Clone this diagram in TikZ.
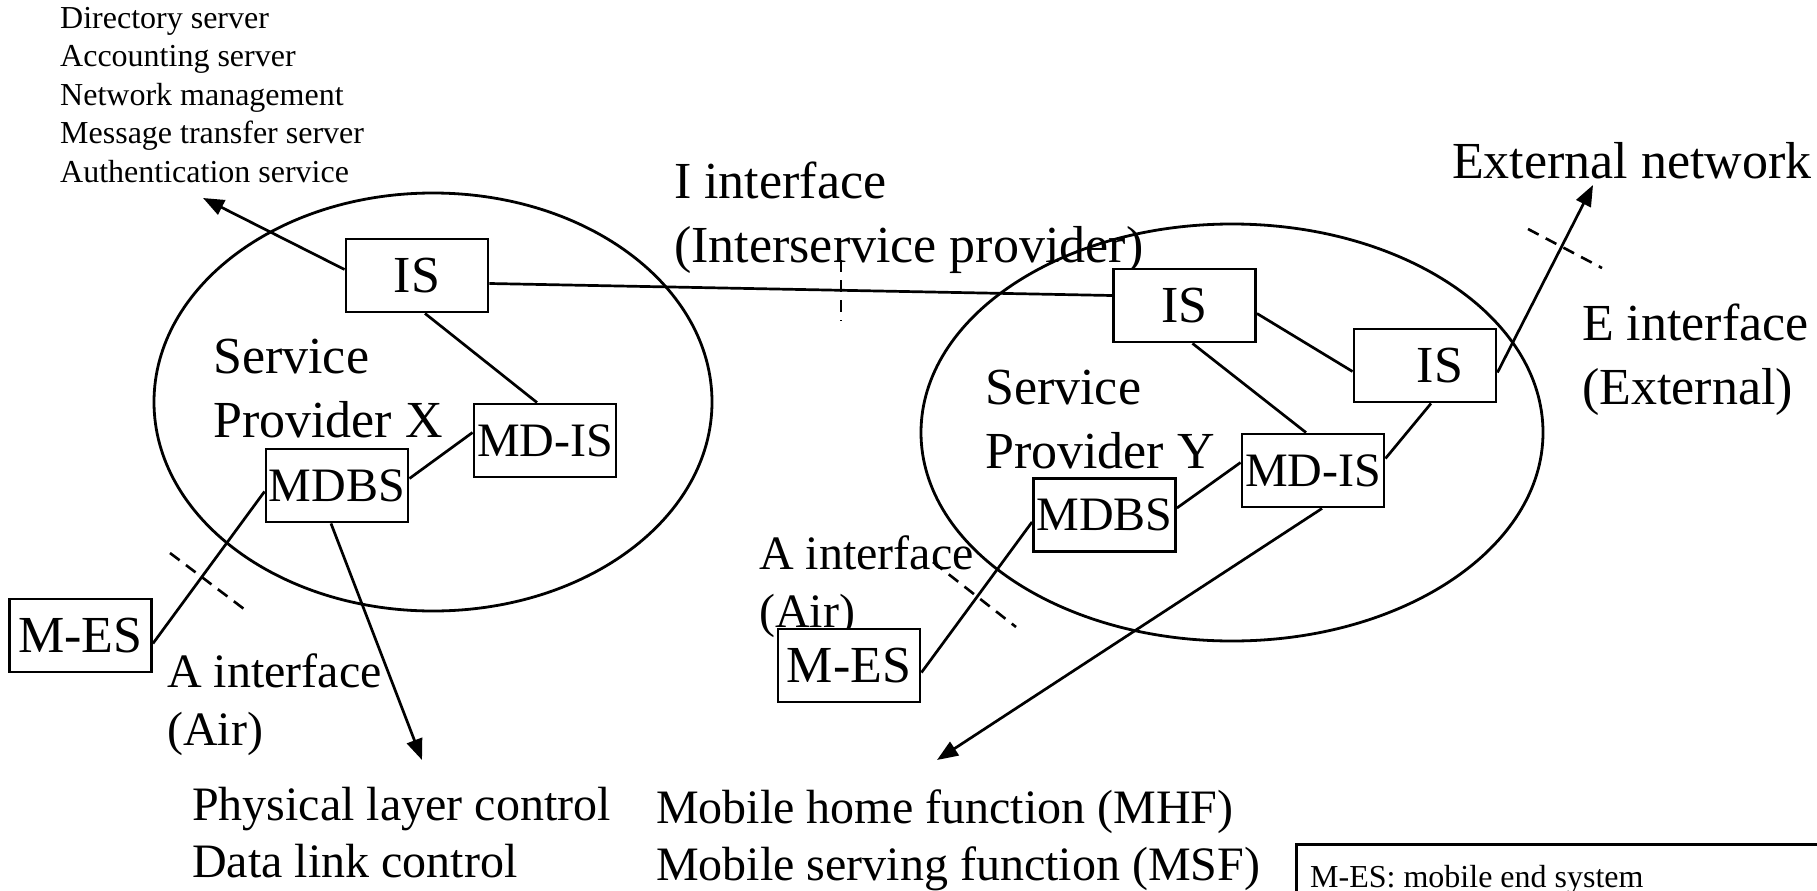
\documentclass[tikz,border=0pt]{standalone}
\usepackage{fontspec}
\setmainfont{Liberation Serif}
\usetikzlibrary{arrows.meta,shapes.geometric}
\begin{document}
\begin{tikzpicture}[x=1pt,y=-1pt,
  box/.style={draw, fill=white, line width=2.9pt, minimum width=142pt, minimum height=73pt, inner sep=0pt, font=\fontsize{52}{62}\selectfont},
  sbox/.style={box, font=\fontsize{48}{57.6}\selectfont},
  big/.style={inner sep=0pt, anchor=base west, font=\fontsize{52}{62}\selectfont},
  mid/.style={inner sep=0pt, anchor=base west, font=\fontsize{48}{57.6}\selectfont},
  small/.style={inner sep=0pt, anchor=base west, font=\fontsize{32}{38.4}\selectfont},
  link/.style={line width=2.7pt},
  arr/.style={line width=2.7pt, -{Triangle[length=21pt,width=16pt]}},
  cut/.style={line width=2.6pt, dash pattern=on 12pt off 8pt},
  region/.style={draw, ellipse, line width=2.8pt, inner sep=0pt}
]
\clip (0,0) rectangle (1817,891);
\fill[white] (0,0) rectangle (1817,891);

% regions
\node[region, minimum width=558pt, minimum height=418pt] (provX) at (433,402) {};
\node[region, minimum width=622pt, minimum height=417pt] (provY) at (1232,432.5) {};

% top-left list
\node[small] (l1) at (60,28.4) {Directory server};
\node[small] (l2) at (60,66.8) {Accounting server};
\node[small] (l3) at (60,105.2) {Network management};
\node[small] (l4) at (60,143.6) {Message transfer server};
\node[small] (l5) at (60,182) {Authentication service};

% labels
\node[big] (ii1) at (674,198.5) {I interface};
\node[big] (ii2) at (674,262) {(Interservice provider)};
\node[big] (ext) at (1452,178) {External network};
\node[big] (ei1) at (1582,340) {E interface};
\node[big] (ei2) at (1582,404) {(External)};
\node[big] (sx1) at (213,373) {Service};
\node[big] (sx2) at (213,437) {Provider X};
\node[big] (sy1) at (985,404) {Service};
\node[big] (sy2) at (985,468) {Provider Y};
\node[mid] (ax1) at (167,687) {A interface};
\node[mid] (ax2) at (167,745) {(Air)};
\node[mid] (ay1) at (759,569) {A interface};
\node[mid] (ay2) at (759,627) {(Air)};
\node[mid] (ph1) at (192,820) {Physical layer control};
\node[mid] (ph2) at (192,877) {Data link control};
\node[mid] (mh1) at (656,823) {Mobile home function (MHF)};
\node[mid] (mh2) at (656,880) {Mobile serving function (MSF)};

% legend
\node[draw, line width=2.6pt, anchor=north west, minimum width=540pt, minimum height=100pt, inner sep=0pt] (legend) at (1295,843) {};
\node[small] (legtext) at (1310,887) {M-ES: mobile end system};

% boxes X
\node[box] (isX) at (417,275.5) {IS};
\node[sbox] (mdisX) at (545,440.5) {MD-IS};
\node[sbox] (mdbsX) at (337,485.5) {MDBS};
\node[box] (mesX) at (80.5,635.5) {M-ES};

% boxes Y
\node[box] (isY1) at (1184.5,305.5) {IS};
\node[box] (isY2) at (1425,365.5) {\hspace*{30pt}IS};
\node[sbox] (mdisY) at (1313,470.5) {MD-IS};
\node[sbox] (mdbsY) at (1104.5,515) {MDBS};
\node[box] (mesY) at (849,665.5) {M-ES};

% free ends
\coordinate (topend) at (203,198);
\coordinate (phend) at (422,760);
\coordinate (mhend) at (937,760);
\coordinate (extend) at (1593,185);

% connectors X
\draw[arr] ([yshift=6pt]isX.west) -- (topend);
\draw[link] ([yshift=-8pt]isX.east) -- ([yshift=10pt]isY1.west);
\draw[link] ([xshift=8pt]isX.south) -- ([xshift=-8pt]mdisX.north);
\draw[link] ([yshift=7pt]mdbsX.east) -- ([yshift=8pt]mdisX.west);
\draw[link] ([yshift=-6pt]mdbsX.west) -- ([yshift=-8pt]mesX.east);
\draw[arr] ([xshift=-6pt]mdbsX.south) -- (phend);

% connectors Y
\draw[link] ([yshift=-8pt]isY1.east) -- ([yshift=-6pt]isY2.west);
\draw[link] ([xshift=8pt]isY1.south) -- ([xshift=-7pt]mdisY.north);
\draw[link] ([xshift=6pt]isY2.south) -- ([yshift=12pt]mdisY.east);
\draw[link] ([yshift=7pt]mdbsY.east) -- ([yshift=8pt]mdisY.west);
\draw[link] ([yshift=-7pt]mdbsY.west) -- ([yshift=-7pt]mesY.east);
\draw[arr] ([xshift=9pt]mdisY.south) -- (mhend);
\draw[arr] ([yshift=-7pt]isY2.east) -- (extend);

% interface cuts
\draw[cut] (841,260) -- (841,321);
\draw[cut] (170,553) -- (248,612);
\draw[cut] (933,562) -- (1016,627);
\draw[cut] (1528,229) -- (1602,268);
\end{tikzpicture}
\end{document}
